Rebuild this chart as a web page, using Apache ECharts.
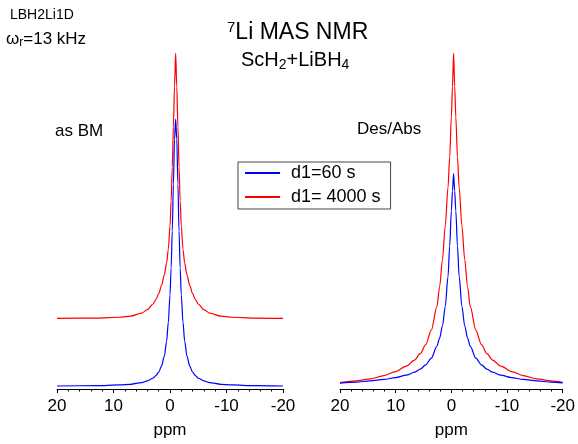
<!DOCTYPE html>
<html>
<head>
<meta charset="utf-8">
<script src="https://cdn.jsdelivr.net/npm/echarts@6/dist/echarts.min.js"></script>
<style>
html,body{margin:0;padding:0;background:#fff;}
#chart{width:578px;height:444px;}
</style>
</head>
<body>
<div id="chart"></div>
<script>
// ---- data ----
// Left panel ("as BM")
const ppmLeft = [20, 13, 9, 7, 5, 4, 3, 2.5, 2, 1.5, 1, 0.6, 0.3, 0, -0.2, -0.4, -0.6, -0.8, -1.0,
  -1.2, -1.4, -1.6, -1.8, -2.0, -2.3, -2.6, -3, -3.5, -4, -4.5, -5, -6, -7, -9, -11, -15, -20];
const blue60Left = [0.9, 1.0, 1.2, 1.4, 1.9, 2.4, 3.2, 4.0, 5.0, 6.8, 9.8, 14.2, 19.8, 28, 36, 47, 61, 74.3, 80.3,
  74.3, 61, 47, 36, 28, 19.8, 14.2, 9.8, 6.8, 5.0, 4.0, 3.2, 2.4, 1.9, 1.4, 1.2, 1.0, 0.9];
const red4000Left = [21.0, 21.1, 21.35, 21.7, 22.6, 23.6, 25.3, 26.6, 28.4, 30.8, 34, 37.5, 41.5, 48.5, 56, 66, 78, 90, 100,
  90, 78, 66, 56, 48.5, 41.5, 37.5, 34, 30.8, 28.4, 26.6, 25.3, 23.6, 22.6, 21.7, 21.35, 21.1, 21.0];

// Right panel ("Des/Abs")
const ppmRight = [20, 17.1, 14.6, 12.1, 10, 8.1, 6.6, 5.6, 4.6, 3.6, 2.6, 2.1, 1.6, 1.1, 0.6, 0.3, 0, -0.2, -0.4,
  -0.6, -0.8, -1.1, -1.4, -1.9, -2.4, -2.9, -3.4, -4.4, -5.4, -6.4, -7.4, -8.9, -10.8, -12.9, -15.4, -17.9, -20];
const blue60Right = [1.75, 2.05, 2.4, 2.85, 3.4, 4.1, 5.0, 5.9, 7.2, 9.2, 12.7, 15.2, 18.8, 24.5, 33.5, 42.5, 53, 59, 64.1,
  59, 53, 42.5, 33.5, 24.5, 18.8, 15.2, 12.7, 9.2, 7.2, 5.9, 5.0, 4.1, 3.4, 2.85, 2.4, 2.05, 1.8];
const red4000Right = [1.9, 2.4, 3.0, 4.0, 5.2, 6.8, 8.6, 10.5, 13.2, 17.5, 24.5, 30.5, 38.5, 48.5, 60, 69, 81, 90, 100,
  90, 81, 69, 60, 48.5, 38.5, 30.5, 24.5, 17.5, 13.2, 10.5, 8.6, 6.8, 5.2, 4.0, 3.0, 2.4, 1.95];

const seriesNames = ['d1=60 s', 'd1= 4000 s'];
const panelLabels = ['as BM', 'Des/Abs'];
const xTickValues = [20, 10, 0, -10, -20];

// ---- chart ----
const FONT = 'Arial, "Liberation Sans", sans-serif';
const BLUE = '#0000ff', RED = '#ff0000';
const pairs = (xs, ys) => xs.map((x, i) => [x, ys[i]]);
const txt = (size, lh, extra) => Object.assign({fontSize: size, lineHeight: lh, color: '#000', fontFamily: FONT, fontWeight: 'normal'}, extra || {});

function xAxisCfg(gridIndex) {
  return {
    gridIndex, type: 'value', inverse: true,
    min: xTickValues[xTickValues.length - 1], max: xTickValues[0], interval: 10,
    axisLine: {show: true, onZero: false, lineStyle: {color: '#000', width: 1}},
    axisTick: {show: true, length: 4, lineStyle: {color: '#000'}},
    minorTick: {show: true, splitNumber: 5, length: 2.5, lineStyle: {color: '#000'}},
    splitLine: {show: false},
    axisLabel: {color: '#000', fontSize: 17, fontFamily: FONT, margin: 9},
    name: 'ppm', nameLocation: 'middle', nameGap: 33,
    nameTextStyle: {color: '#000', fontSize: 17, fontFamily: FONT}
  };
}
function yAxisCfg(gridIndex) {
  return {gridIndex, type: 'value', min: 0, max: 100, show: false};
}
function lineSeries(name, color, axis, xs, ys, z) {
  return {name, type: 'line', xAxisIndex: axis, yAxisIndex: axis, symbol: 'none', z,
    smooth: 0.3, smoothMonotone: 'x',
    lineStyle: {color, width: 1.2}, itemStyle: {color}, data: pairs(xs, ys)};
}

const chart = echarts.init(document.getElementById('chart'), null, {renderer: 'canvas'});
chart.setOption({
  animation: false,
  backgroundColor: '#fff',
  textStyle: {fontFamily: FONT},
  title: [
    {text: 'LBH2Li1D', left: 10, top: 7, padding: 0, textStyle: txt(14, 16)},
    {text: '{w|ω}{s|r}{n|=13 kHz}', left: 6, top: 29, padding: 0,
     textStyle: Object.assign(txt(17, 20), {rich: {
       w: txt(17, 20), s: txt(12, 8, {verticalAlign: 'bottom'}), n: txt(17, 20)}})},
    {text: '{p|7}{m|Li MAS NMR}', left: 227, top: 20, padding: 0,
     textStyle: Object.assign(txt(23, 26), {rich: {
       p: txt(15, 10, {verticalAlign: 'top'}), m: txt(23, 26)}})},
    {text: '{m|ScH}{s|2}{m|+LiBH}{s|4}', left: 241, top: 48, padding: 0,
     textStyle: Object.assign(txt(20, 24), {rich: {
       m: txt(20, 24), s: txt(14, 14, {verticalAlign: 'bottom'})}})},
    {text: panelLabels[0], left: 55, top: 121, padding: 0, textStyle: txt(17, 20)},
    {text: panelLabels[1], left: 357, top: 119, padding: 0, textStyle: txt(17, 20)}
  ],
  legend: {
    data: seriesNames, orient: 'vertical', left: 238, top: 162,
    padding: [2, 10, 3, 6], itemGap: 6, itemWidth: 35, itemHeight: 14,
    borderColor: '#444', borderWidth: 1, backgroundColor: '#fff',
    itemStyle: {opacity: 0},
    textStyle: {fontSize: 18, color: '#000', fontFamily: FONT, padding: [0, 0, 0, 6]}
  },
  grid: [
    {left: 57, width: 226, top: 53, height: 340},
    {left: 340, width: 227, top: 53, height: 340}
  ],
  xAxis: [xAxisCfg(0), xAxisCfg(1)],
  yAxis: [yAxisCfg(0), yAxisCfg(1)],
  series: [
    lineSeries(seriesNames[0], BLUE, 0, ppmLeft, blue60Left, 3),
    lineSeries(seriesNames[1], RED, 0, ppmLeft, red4000Left, 2),
    lineSeries(seriesNames[0], BLUE, 1, ppmRight, blue60Right, 3),
    lineSeries(seriesNames[1], RED, 1, ppmRight, red4000Right, 2)
  ]
});
</script>
</body>
</html>
